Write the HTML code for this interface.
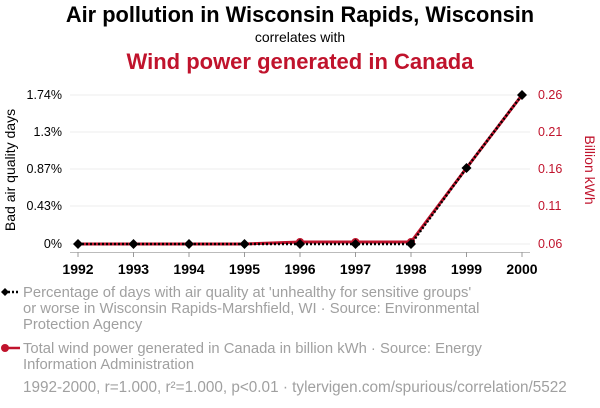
<!DOCTYPE html>
<html><head><meta charset="utf-8"><style>
html,body{margin:0;padding:0;background:#fff;width:600px;height:408px;overflow:hidden}
svg{display:block;font-family:"Liberation Sans",Arial,sans-serif}
</style></head><body>
<svg width="600" height="408" viewBox="0 0 600 408">
<text x="300" y="22" text-anchor="middle" font-size="21.8" font-weight="bold" fill="#000">Air pollution in Wisconsin Rapids, Wisconsin</text>
<text x="300" y="42" text-anchor="middle" font-size="14" fill="#000">correlates with</text>
<text x="300" y="69" text-anchor="middle" font-size="22" font-weight="bold" fill="#c0132c">Wind power generated in Canada</text>
<g stroke="#eeeeee" stroke-width="1">
<line x1="70" y1="95" x2="530" y2="95"/><line x1="70" y1="132" x2="530" y2="132"/>
<line x1="70" y1="169" x2="530" y2="169"/><line x1="70" y1="206" x2="530" y2="206"/>
<line x1="70" y1="244" x2="530" y2="244"/>
</g>
<line x1="70" y1="252.5" x2="530" y2="252.5" stroke="#bbb"/>
<g stroke="#999">
<line x1="78" y1="252" x2="78" y2="257"/><line x1="133.5" y1="252" x2="133.5" y2="257"/><line x1="189" y1="252" x2="189" y2="257"/><line x1="244.5" y1="252" x2="244.5" y2="257"/><line x1="300" y1="252" x2="300" y2="257"/><line x1="355.5" y1="252" x2="355.5" y2="257"/><line x1="411" y1="252" x2="411" y2="257"/><line x1="466.5" y1="252" x2="466.5" y2="257"/><line x1="522" y1="252" x2="522" y2="257"/>
</g>
<g font-size="14" font-weight="bold" text-anchor="middle" fill="#000">
<text x="78" y="274">1992</text><text x="133.5" y="274">1993</text><text x="189" y="274">1994</text><text x="244.5" y="274">1995</text><text x="300" y="274">1996</text><text x="355.5" y="274">1997</text><text x="411" y="274">1998</text><text x="466.5" y="274">1999</text><text x="522" y="274">2000</text>
</g>
<g font-size="12.5" text-anchor="end" fill="#000">
<text x="62" y="99">1.74%</text><text x="62" y="136">1.3%</text><text x="62" y="173">0.87%</text><text x="62" y="210">0.43%</text><text x="62" y="248">0%</text>
</g>
<g font-size="12.5" fill="#c0132c">
<text x="538" y="99">0.26</text><text x="538" y="136">0.21</text><text x="538" y="173">0.16</text><text x="538" y="210">0.11</text><text x="538" y="248">0.06</text>
</g>
<text transform="translate(15,170) rotate(-90)" text-anchor="middle" font-size="14" fill="#000">Bad air quality days</text>
<text transform="translate(585,170) rotate(90)" text-anchor="middle" font-size="14" fill="#c0132c">Billion kWh</text>
<polyline fill="none" stroke="#c0132c" stroke-width="3" points="78,244 133.5,244 189,244 244.5,244 300,242 355.5,242 411,242 466.5,168 522,95"/>
<g fill="#c0132c"><circle cx="300" cy="242" r="4"/><circle cx="355.5" cy="242" r="4"/><circle cx="411" cy="242" r="4"/></g>
<polyline fill="none" stroke="#000" stroke-width="2.5" stroke-dasharray="2,2" points="78,244 133.5,244 189,244 244.5,244 300,244 355.5,244 411,244 466.5,168 522,95"/>
<g fill="#000">
<path d="M78,239l5,5l-5,5l-5,-5z"/><path d="M133.5,239l5,5l-5,5l-5,-5z"/><path d="M189,239l5,5l-5,5l-5,-5z"/><path d="M244.5,239l5,5l-5,5l-5,-5z"/><path d="M300,239l5,5l-5,5l-5,-5z"/><path d="M355.5,239l5,5l-5,5l-5,-5z"/><path d="M411,239l5,5l-5,5l-5,-5z"/><path d="M466.5,163l5,5l-5,5l-5,-5z"/><path d="M522,90l5,5l-5,5l-5,-5z"/>
</g>
<line x1="4" y1="292" x2="20" y2="292" stroke="#000" stroke-width="2.5" stroke-dasharray="2,2"/>
<path d="M5,288l4,4l-4,4l-4,-4z" fill="#000"/>
<line x1="4" y1="348" x2="20" y2="348" stroke="#c0132c" stroke-width="2.5"/>
<circle cx="5" cy="348" r="4" fill="#c0132c"/>
<g font-size="14.8" fill="#a0a0a0">
<text x="23" y="297">Percentage of days with air quality at 'unhealthy for sensitive groups'</text>
<text x="23" y="313">or worse in Wisconsin Rapids-Marshfield, WI · Source: Environmental</text>
<text x="23" y="329">Protection Agency</text>
<text x="23" y="353">Total wind power generated in Canada in billion kWh · Source: Energy</text>
<text x="23" y="369">Information Administration</text>
<text x="23" y="392" font-size="15.3">1992-2000, r=1.000, r²=1.000, p&lt;0.01 · tylervigen.com/spurious/correlation/5522</text>
</g>
</svg>
</body></html>
